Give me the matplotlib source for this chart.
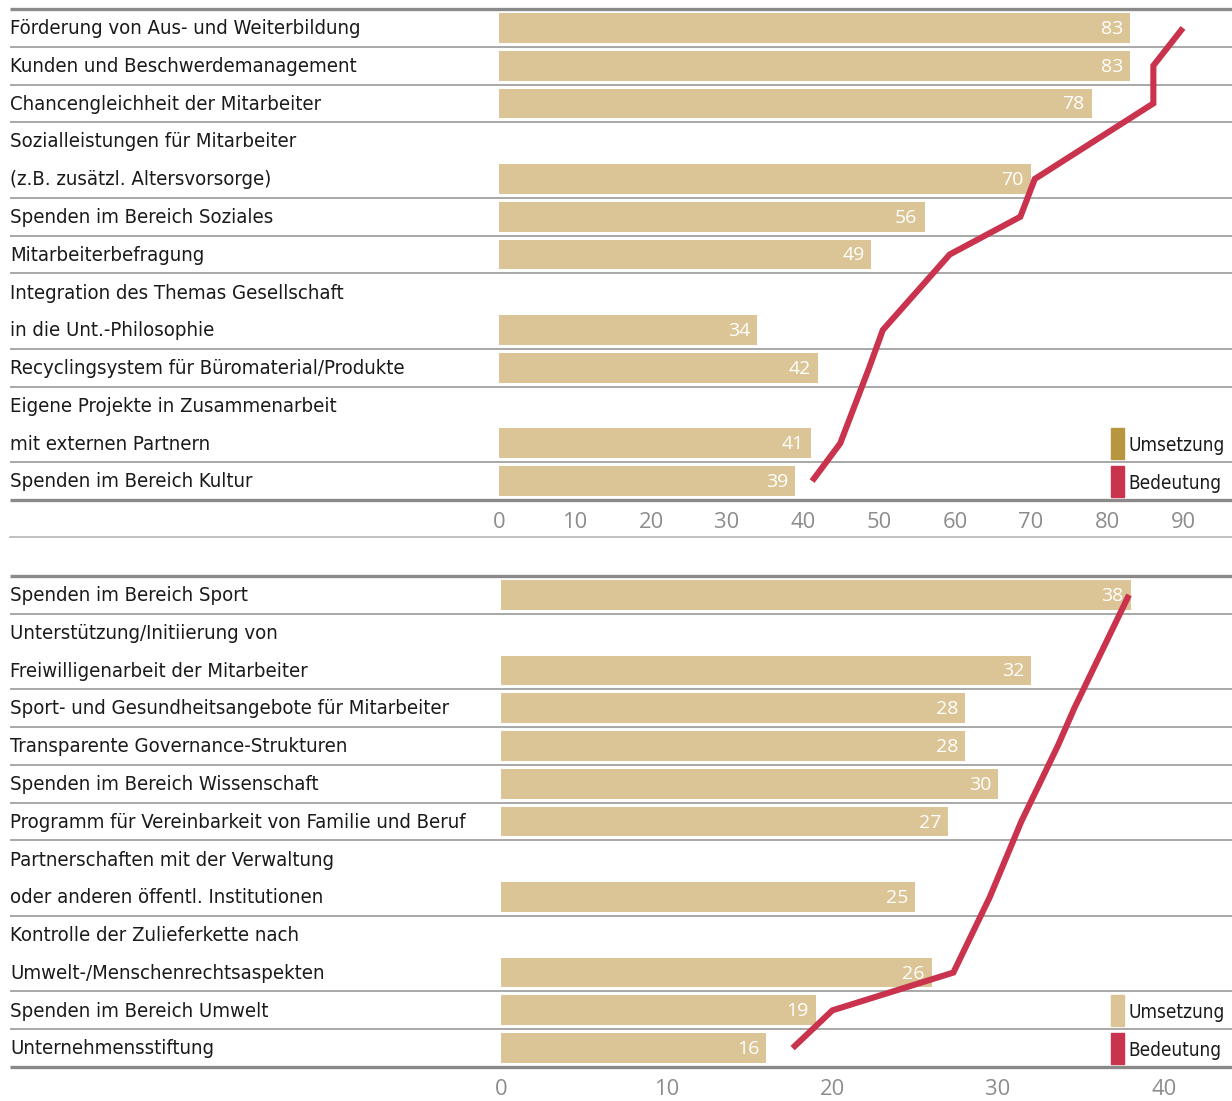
import os
import matplotlib
matplotlib.use("Agg")
import matplotlib.pyplot as plt
from matplotlib.patches import Rectangle
import matplotlib.transforms as mtransforms
from matplotlib import font_manager
from matplotlib.font_manager import FontProperties

# ---------------- data ----------------
top_labels = [
    ["Förderung von Aus- und Weiterbildung"],
    ["Kunden und Beschwerdemanagement"],
    ["Chancengleichheit der Mitarbeiter"],
    ["Sozialleistungen für Mitarbeiter", "(z.B. zusätzl. Altersvorsorge)"],
    ["Spenden im Bereich Soziales"],
    ["Mitarbeiterbefragung"],
    ["Integration des Themas Gesellschaft", "in die Unt.-Philosophie"],
    ["Recyclingsystem für Büromaterial/Produkte"],
    ["Eigene Projekte in Zusammenarbeit", "mit externen Partnern"],
    ["Spenden im Bereich Kultur"],
]
top_umsetzung = [83, 83, 78, 70, 56, 49, 34, 42, 41, 39]
top_bedeutung = [90.0, 86.1, 86.1, 70.5, 68.6, 59.3, 50.5, 48.7, 44.9, 41.2]
top_ticks = [0, 10, 20, 30, 40, 50, 60, 70, 80, 90]

bot_labels = [
    ["Spenden im Bereich Sport"],
    ["Unterstützung/Initiierung von", "Freiwilligenarbeit der Mitarbeiter"],
    ["Sport- und Gesundheitsangebote für Mitarbeiter"],
    ["Transparente Governance-Strukturen"],
    ["Spenden im Bereich Wissenschaft"],
    ["Programm für Vereinbarkeit von Familie und Beruf"],
    ["Partnerschaften mit der Verwaltung", "oder anderen öffentl. Institutionen"],
    ["Kontrolle der Zulieferkette nach", "Umwelt-/Menschenrechtsaspekten"],
    ["Spenden im Bereich Umwelt"],
    ["Unternehmensstiftung"],
]
bot_umsetzung = [38, 32, 28, 28, 30, 27, 25, 26, 19, 16]
bot_bedeutung = [37.9, 35.7, 34.6, 33.6, 32.5, 31.4, 29.5, 27.3, 20.0, 17.6]
bot_ticks = [0, 10, 20, 30, 40]

legend_names = ["Umsetzung", "Bedeutung"]

# ---------------- style ----------------
BAR = "#DBC596"
GOLD = "#B8963F"
RED = "#C9334D"
GRID = "#9a9a9a"
FRAME = "#8a8a8a"
TICK = "#8c8c8c"


def pick_narrow():
    files = [f.fname for f in font_manager.fontManager.ttflist]
    for f in font_manager.fontManager.ttflist:
        if f.name == "Liberation Sans Narrow" and f.style == "normal" and f.weight in (400, "normal", "regular"):
            return FontProperties(fname=f.fname)
    for fn in files:
        if os.path.basename(fn) == "DejaVuSansCondensed.ttf":
            return FontProperties(fname=fn)
    for fn in files:
        b = os.path.basename(fn).lower()
        if "condensed" in b and "bold" not in b and "oblique" not in b and "italic" not in b:
            return FontProperties(fname=fn)
    return FontProperties(family="DejaVu Sans", stretch="condensed")


NARROW_FP = pick_narrow()
names = {f.name for f in font_manager.fontManager.ttflist}
NUMF = "Open Sans" if "Open Sans" in names else "DejaVu Sans"

W, H = 1232, 1101
fig = plt.figure(figsize=(W / 100, H / 100), dpi=100)


def narrow(size):
    fp = NARROW_FP.copy()
    fp.set_size(size)
    return fp


def panel(top_px, bot_px, zero_px, unit_px, labels, ums, bed, ticks, legend_gold):
    ax = fig.add_axes([0, 1 - bot_px / H, 1, (bot_px - top_px) / H])
    nrows = sum(len(l) for l in labels)
    ax.set_ylim(nrows, 0)
    ax.set_xlim((0 - zero_px) / unit_px, (W - zero_px) / unit_px)
    ax.axis("off")
    xfrac_left = 10 / W
    trans = mtransforms.blended_transform_factory(ax.transAxes, ax.transData)

    row = 0
    ys = []
    for i, lines in enumerate(labels):
        for j, line in enumerate(lines):
            ax.text(xfrac_left, row + j + 0.52, line, transform=trans,
                    ha="left", va="center", fontproperties=narrow(14.6),
                    color="#1a1a1a")
        yc = row + len(lines) - 0.5
        ys.append(yc)
        row += len(lines)
        if i < len(labels) - 1:
            ax.plot([xfrac_left, 1], [row, row], transform=trans,
                    color=GRID, lw=1.2, solid_capstyle="butt", clip_on=False)

    ax.barh(ys, ums, height=0.79, color=BAR, left=0)
    for y, v in zip(ys, ums):
        ax.annotate(str(v), (v, y), xytext=(-7, -1), textcoords="offset pixels",
                    ha="right", va="center", color="white", fontsize=14,
                    family=NUMF)

    ax.plot(bed, ys, color=RED, lw=4.4, solid_joinstyle="miter",
            solid_capstyle="butt", zorder=5)

    # frame lines
    for yy in (0, nrows):
        ax.plot([xfrac_left, 1], [yy, yy], transform=trans, color=FRAME,
                lw=2.4, solid_capstyle="butt", clip_on=False)

    # tick labels
    tick_y = nrows + 0.6
    for t in ticks:
        ax.text(t, tick_y, str(t), ha="center", va="center", fontsize=15.8,
                color=TICK, family=NUMF, clip_on=False)

    # legend
    colors = [legend_gold, RED]
    for k, (name, c) in enumerate(zip(legend_names, colors)):
        yc = nrows - 2 + k + 0.5
        ax.add_patch(Rectangle((1111 / W, yc - 0.41), 13 / W, 0.82,
                               transform=trans, color=c, clip_on=False))
        ax.text(1128 / W, yc + 0.05, name, transform=trans, ha="left",
                va="center", fontproperties=narrow(13.6), color="#1a1a1a")
    return ax, trans


ax1, tr1 = panel(9, 500, 499, 7.6, top_labels, top_umsetzung, top_bedeutung,
                 top_ticks, GOLD)
# thin line below top axis labels
ax1.plot([10 / W, 1], [13 + 0.98, 13 + 0.98], transform=tr1, color="#b5b5b5",
         lw=1.2, clip_on=False)

ax2, tr2 = panel(576, 1067, 501, 16.57, bot_labels, bot_umsetzung,
                 bot_bedeutung, bot_ticks, BAR)

fig.savefig("out.png", dpi=100)
